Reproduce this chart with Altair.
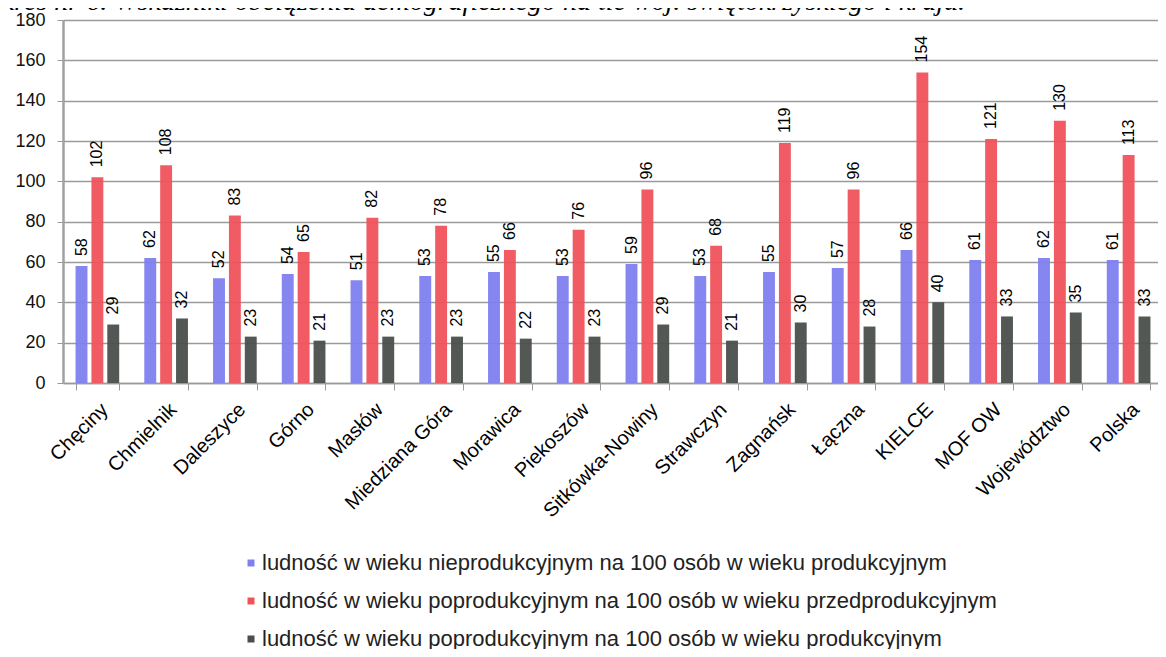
import altair as alt
import pandas as pd

categories = ["Chęciny", "Chmielnik", "Daleszyce", "Górno", "Masłów", "Miedziana Góra",
              "Morawica", "Piekoszów", "Sitkówka-Nowiny", "Strawczyn", "Zagnańsk", "Łączna",
              "KIELCE", "MOF OW", "Województwo", "Polska"]
series_names = [
    "ludność w wieku nieprodukcyjnym na 100 osób w wieku produkcyjnym",
    "ludność w wieku poprodukcyjnym na 100 osób w wieku przedprodukcyjnym",
    "ludność w wieku poprodukcyjnym na 100 osób w wieku produkcyjnym",
]
s_nieprod = [58, 62, 52, 54, 51, 53, 55, 53, 59, 53, 55, 57, 66, 61, 62, 61]
s_poprod_przed = [102, 108, 83, 65, 82, 78, 66, 76, 96, 68, 119, 96, 154, 121, 130, 113]
s_poprod_prod = [29, 32, 23, 21, 23, 23, 22, 23, 29, 21, 30, 28, 40, 33, 35, 33]
colors = ["#7e80ee", "#f0525c", "#4b4f4c"]
y_ticks = [0, 20, 40, 60, 80, 100, 120, 140, 160, 180]
title_text = "Wykres nr 6. Wskaźniki obciążenia demograficznego na tle woj. świętokrzyskiego i kraju."

rows = []
for name, vals in zip(series_names, [s_nieprod, s_poprod_przed, s_poprod_prod]):
    for c, v in zip(categories, vals):
        rows.append({"kategoria": c, "seria": name, "wartosc": v})
df = pd.DataFrame(rows)

FONT = "Liberation Sans"

x_enc = alt.X(
    "kategoria:N", sort=categories,
    scale=alt.Scale(range=[0, 1100], paddingInner=0.365, paddingOuter=0.1825),
    axis=alt.Axis(title=None, labelAngle=-45, labelAlign="right", labelBaseline="top",
                  labelFontSize=20, labelColor="#000000", labelFont=FONT,
                  tickBand="extent", tickSize=7, tickColor="#9a9a9a",
                  domainColor="#9a9a9a", domainWidth=1.5, labelPadding=9, grid=False),
)
xo_enc = alt.XOffset("seria:N", sort=series_names,
                     scale=alt.Scale(paddingInner=0.25, paddingOuter=0))
y_enc = alt.Y(
    "wartosc:Q", scale=alt.Scale(domain=[0, 180], nice=False),
    axis=alt.Axis(values=y_ticks, title=None, labelFontSize=18, labelColor="#111111",
                  labelFont=FONT, gridColor="#9a9a9a", gridWidth=1.5, tickSize=6,
                  tickColor="#9a9a9a", domainColor="#a0a0a0", domainWidth=2.5,
                  labelPadding=12),
)

bars = alt.Chart(df).mark_bar(opacity=0.95).encode(
    x=x_enc, xOffset=xo_enc, y=y_enc,
    color=alt.Color("seria:N", scale=alt.Scale(domain=series_names, range=colors),
                    legend=alt.Legend(title=None, orient="none", legendX=177, legendY=532,
                                      direction="vertical", symbolType="square",
                                      symbolSize=49, labelFontSize=22, labelFont=FONT,
                                      labelColor="#222222", rowPadding=16, labelOffset=0,
                                      labelLimit=1200, symbolStrokeWidth=0,
                                      symbolOpacity=1)),
)

labels = alt.Chart(df).mark_text(
    angle=270, align="left", baseline="middle", dx=10, fontSize=16, font=FONT,
    color="#000000",
).encode(x=x_enc, xOffset=xo_enc, y=y_enc, text="wartosc:Q")

title_layer = alt.Chart(pd.DataFrame({"t": [title_text]})).mark_text(
    align="right", baseline="alphabetic", font="Liberation Serif", fontStyle="italic",
    fontSize=28, color="#000000",
).encode(x=alt.value(902), y=alt.value(-10), text="t:N")

chart = alt.layer(bars, labels, title_layer).properties(
    width=1095, height=363,
    autosize=alt.AutoSizeParams(type="none"),
    padding={"left": 55, "top": 12, "right": 0, "bottom": 266},
).configure_view(stroke=None).configure(font=FONT)

chart.save("out.html", embed_options={"renderer": "svg", "actions": False})
